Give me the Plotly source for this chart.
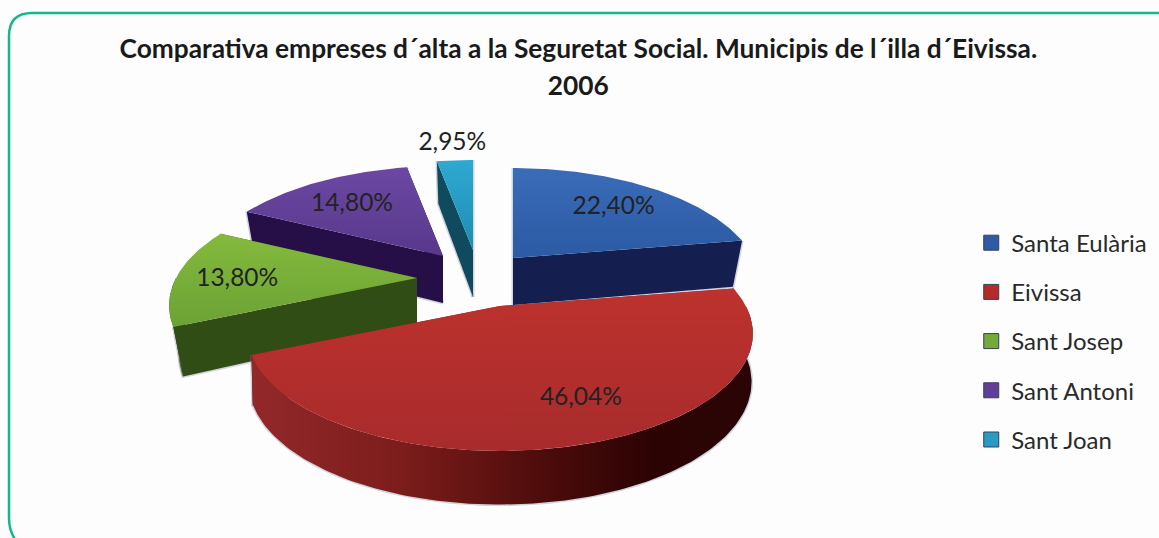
import numpy as np
import plotly.graph_objects as go

# ---- data ----
categories = ["Santa Eulària", "Eivissa", "Sant Josep", "Sant Antoni", "Sant Joan"]
values = [22.40, 46.04, 13.80, 14.80, 2.95]
labels = ["22,40%", "46,04%", "13,80%", "14,80%", "2,95%"]
title_lines = ["Comparativa empreses d´alta a la Seguretat Social. Municipis de l´illa d´Eivissa.", "2006"]

# ---- styles and 3D projection of the exploded pie ----
top_colors = [("#2c5aa4", "#3a6cb8"), ("#a82b2c", "#bd322d"), ("#6ba235", "#84ba3c"),
              ("#57388a", "#6c48a4"), ("#1d8db2", "#2fa9d2")]
wall_colors = ["#141f4f", "#7a1b1a", "#2f4d14", "#260f47", "#0f4a5e"]
swatch_colors = ["#2f5aa6", "#b52b2a", "#74ab38", "#5f3f98", "#2a9cc4"]
apex_x = [513, 500, 417, 443, 473]
apex_y = [258, 306, 278, 256, 250]
x_scale = [1, 1.02, 1, 1, 1]
wall_shrink = [0.96, 0.995, 0.96, 0.96, 0.96]
label_radius = [0.76, 0.68, 0.75, 0.74, 1.2]
label_shift_x = [0, 21, 0, 0, 1]
label_shift_y = [4, 0, 4, 4, 1]
paint_order = [4, 3, 0, 2, 1]
RX, RY, PERSP, DEPTH = 241, 111, 0.234, 47
SHADOW = "rgba(110,120,145,0.30)"
TEXT_FONT = "Lato, Carlito, Calibri, sans-serif"


def project(theta, r=1.0):
    u, v = np.sin(theta) * r, -np.cos(theta) * r
    k = 1 / (1 - PERSP * v)
    return u * RX * k, v * RY * k, DEPTH * np.sqrt(k)


total = sum(values)
edges = np.radians(np.concatenate([[0], np.cumsum(values) / total * 360]))


def arc(a, b):
    return np.linspace(a, b, max(3, int(abs(b - a) * 60)))


def polygon(xs, ys, fill=None, gradient=None):
    kw = dict(x=list(xs), y=list(ys), mode="lines", fill="toself", showlegend=False,
              hoverinfo="skip", line=dict(width=0))
    if gradient:
        kw["fillgradient"] = gradient
    else:
        kw["fillcolor"] = fill
    return go.Scatter(**kw)


def shadow(xs, ys):
    fig.add_trace(go.Scatter(x=list(xs), y=list(ys), mode="lines", showlegend=False, hoverinfo="skip",
                             line=dict(width=3, color=SHADOW)))


fig = go.Figure()

for i in paint_order:
    a, b = edges[i], edges[i + 1]
    ax, ay = apex_x[i], apex_y[i]
    walls = []
    # radial walls
    for ang in (a, b):
        dx, dy, d = project(ang)
        dx = dx * x_scale[i]
        shadow([ax + dx, ax + dx * wall_shrink[i], ax], [ay + dy, ay + dy + d, ay + DEPTH])
        walls.append(polygon([ax, ax + dx, ax + dx * wall_shrink[i], ax, ax],
                             [ay, ay + dy, ay + dy + d, ay + DEPTH, ay],
                             fill=wall_colors[i]))
    # outer wall: only the part of the arc that faces the viewer
    lo, hi = max(a, np.pi / 2), min(b, 3 * np.pi / 2)
    if hi > lo:
        t = arc(lo, hi)
        dx, dy, d = project(t)
        dx = dx * x_scale[i]
        shadow(ax + dx * wall_shrink[i], ay + dy + d)
        xs = np.concatenate([ax + dx, (ax + dx * wall_shrink[i])[::-1]])
        ys = np.concatenate([ay + dy, (ay + dy + d)[::-1]])
        if i == 1:
            grad = dict(type="horizontal", colorscale=[[0, "#93282a"], [0.3, "#7c1d1b"], [0.6, "#4a0b0a"], [0.8, "#2c0303"], [1, "#2a0505"]])
            walls.append(polygon(xs, ys, gradient=grad))
        else:
            walls.append(polygon(xs, ys, fill=wall_colors[i]))
    fig.add_traces(walls)
    # top face
    t = arc(a, b)
    dx, dy, _ = project(t)
    dx = dx * x_scale[i]
    fig.add_trace(polygon(
        np.concatenate([[ax], ax + dx, [ax]]),
        np.concatenate([[ay], ay + dy, [ay]]),
        gradient=dict(type="vertical", colorscale=[[0, top_colors[i][0]], [1, top_colors[i][1]]])))

# data labels
for i, txt in enumerate(labels):
    mid = (edges[i] + edges[i + 1]) / 2
    dx, dy, _ = project(mid, 1.0)
    fig.add_trace(go.Scatter(
        x=[apex_x[i] + dx * label_radius[i] + label_shift_x[i]],
        y=[apex_y[i] + dy * label_radius[i] + label_shift_y[i]],
        mode="text", text=[txt], textposition="middle center", showlegend=False, hoverinfo="skip",
        textfont=dict(family=TEXT_FONT, size=24.5, color="#222222")))

# legend entries
for name, col in zip(categories, swatch_colors):
    fig.add_trace(go.Scatter(
        x=[None], y=[None], mode="markers", name=name, legendgroup=name,
        marker=dict(symbol="square", size=15, color=col, line=dict(width=1, color="#33415f"))))

frame = "M 17,542 Q 9,532 9,518 L 9,36 Q 9,13 32,13 L 1170,13"
title_text = "<br>".join(f'<span style="font-size:26.3px"><b>{t}</b></span>' for t in title_lines)

fig.update_layout(
    width=1159, height=538, margin=dict(l=0, r=0, t=0, b=0),
    paper_bgcolor="#fdfdfe", plot_bgcolor="#fdfdfe",
    xaxis=dict(range=[0, 1159], visible=False, fixedrange=True),
    yaxis=dict(range=[538, 0], visible=False, fixedrange=True),
    title=dict(text=title_text, x=0.499, xanchor="center", y=0.892, yanchor="middle",
               font=dict(family=TEXT_FONT, size=28.5, color="#1a1a1a")),
    legend=dict(x=0.838, xanchor="left", y=0.366, yanchor="middle", bgcolor="rgba(0,0,0,0)",
                tracegroupgap=15, font=dict(family=TEXT_FONT, size=24, color="#2a2a2a")),
    shapes=[dict(type="path", path=frame, xref="x", yref="y", line=dict(color="#14b68a", width=2.5))],
)

fig.write_html("out.html", config=dict(displayModeBar=False), post_script='document.body.style.margin="0";')
